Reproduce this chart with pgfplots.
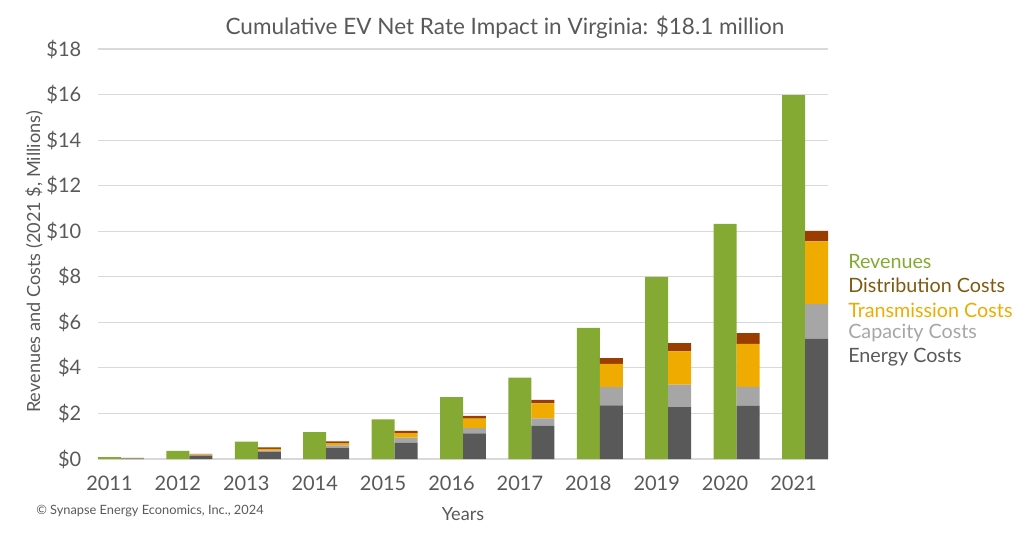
\documentclass[border=0pt]{standalone}
\usepackage{pgfplots}
\pgfplotsset{compat=1.18}
\usepackage{pgfplotstable}
\usepackage{fontspec}
\setmainfont{Lato}
\definecolor{revgreen}{HTML}{84AA33}
\definecolor{energy}{HTML}{595959}
\definecolor{capac}{HTML}{A6A6A6}
\definecolor{trans}{HTML}{F0AB00}
\definecolor{distr}{HTML}{993D00}
\definecolor{distrtxt}{HTML}{7F5A10}
\definecolor{txt}{HTML}{595959}
\definecolor{gridc}{HTML}{D9D9D9}
\pgfplotstableread{
i rev
0 0.08
1 0.36
2 0.76
3 1.18
4 1.74
5 2.72
6 3.57
7 5.76
8 8.00
9 10.32
10 15.98
}\revtable
\pgfplotstableread{
i energy cap trans dist
0 0.02 0.01 0.01 0.01
1 0.14 0.03 0.03 0.03
2 0.32 0.05 0.08 0.06
3 0.48 0.12 0.10 0.07
4 0.72 0.22 0.20 0.09
5 1.12 0.24 0.41 0.12
6 1.46 0.32 0.66 0.16
7 2.35 0.81 1.02 0.25
8 2.28 0.98 1.46 0.37
9 2.33 0.84 1.88 0.48
10 5.27 1.53 2.75 0.47
}\costtable
\pgfplotsset{
  common/.style={
    at={(0,0)}, anchor=south west,
    scale only axis, width=547.5pt, height=307.5pt,
    bar width=0.336,
    xmin=-0.168, xmax=10.504,
    ymin=0, ymax=18,
  }
}
\begin{document}
\begin{tikzpicture}[x=1pt,y=1pt]
\useasboundingbox (-73.5,-63) rectangle (694.5,344.25);
\begin{axis}[
  common,
  ybar,
  xtick={0,...,10},
  xticklabels={2011,2012,2013,2014,2015,2016,2017,2018,2019,2020,2021},
  ytick={0,2,...,18},
  yticklabel={\$\pgfmathprintnumber{\tick}},
  /pgf/number format/assume math mode=true,
  ymajorgrids, grid style={gridc, line width=0.8pt},
  axis line style={draw=none},
  major tick length=0pt,
  tick style={draw=none},
  ticklabel style={font=\fontsize{15}{18}\selectfont, text=txt},
  xticklabel style={yshift=-9pt},
  yticklabel style={xshift=-9pt},
  ylabel={Revenues and Costs (2021 \$, Millions)},
  ylabel style={font=\fontsize{13.6}{16}\selectfont, text=txt, yshift=-4pt, xshift=-6pt},
  xlabel={Years},
  xlabel style={font=\fontsize{13.6}{16}\selectfont, text=txt, yshift=-6pt},
]
\addplot[fill=revgreen, draw=none, bar shift=0] table[x=i, y=rev] {\revtable};
\end{axis}
\begin{axis}[
  common,
  ybar stacked,
  hide axis,
]
\addplot[fill=energy, draw=none] table[x expr=\thisrow{i}+0.336, y=energy] {\costtable};
\addplot[fill=capac, draw=none] table[x expr=\thisrow{i}+0.336, y=cap] {\costtable};
\addplot[fill=trans, draw=none] table[x expr=\thisrow{i}+0.336, y=trans] {\costtable};
\addplot[fill=distr, draw=none] table[x expr=\thisrow{i}+0.336, y=dist] {\costtable};
\end{axis}
\node[font=\fontsize{16.9}{20}\selectfont, text=txt] at (305.25,324) {Cumulative EV Net Rate Impact in Virginia: \$18.1 million};
\begin{scope}[every node/.style={anchor=west, font=\fontsize{14.8}{17}\selectfont, inner sep=0pt}]
\node[text=revgreen] at (562.5,147.75) {Revenues};
\node[text=distrtxt] at (562.5,130.5) {Distribution Costs};
\node[text=trans] at (562.5,111.75) {Transmission Costs};
\node[text=capac] at (562.5,94.5) {Capacity Costs};
\node[text=energy] at (562.5,76.5) {Energy Costs};
\end{scope}
\node[anchor=west, inner sep=0pt, font=\fontsize{9.6}{11}\selectfont, text=txt] at (-46.5,-39) {\textcopyright\ Synapse Energy Economics, Inc., 2024};
\end{tikzpicture}
\end{document}
